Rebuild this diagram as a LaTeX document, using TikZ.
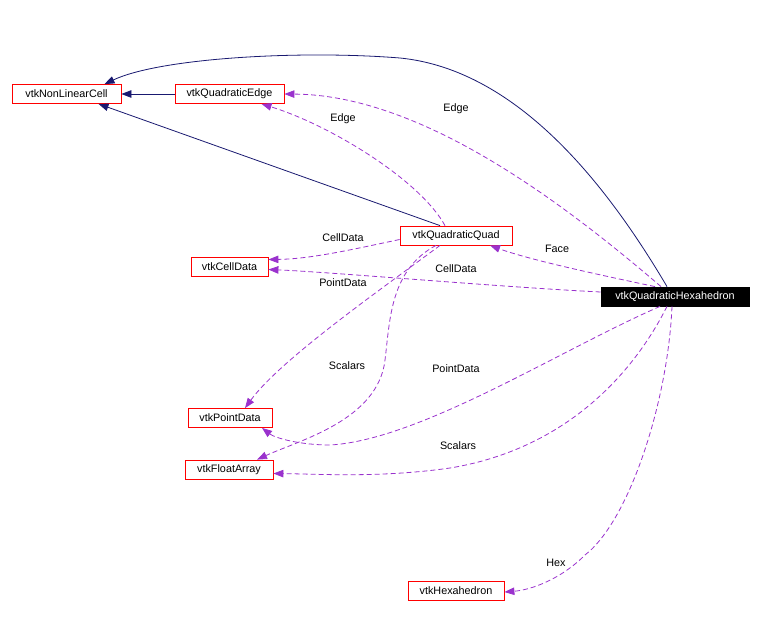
\documentclass[tikz,border=0pt]{standalone}
\usepackage{fontspec}
\setmainfont{Liberation Sans}
\usepackage{xcolor}
\usepackage{tikz}
\usetikzlibrary{arrows.meta,positioning,calc}

\definecolor{inhblue}{HTML}{191970}
\definecolor{usepurple}{HTML}{9A32CD}

\begin{document}
\begin{tikzpicture}[x=1pt, y=-1pt,
  cls/.style={draw=red, line width=0.8pt, minimum height=19pt, inner sep=0pt,
    font=\fontsize{10.8}{12}\selectfont},
  cur/.style={cls, draw=black, fill=black, text=white},
  inh/.style={draw=inhblue, line width=0.8pt, -{Triangle[length=10pt, width=7.5pt]}},
  use/.style={draw=usepurple, line width=0.8pt, dash pattern=on 5pt off 3pt,
    -{Triangle[length=10pt, width=7.5pt]}},
  lab/.style={font=\fontsize{10.8}{12}\selectfont, inner sep=1pt},
]
  \useasboundingbox (0,0) rectangle (762,616);

  % Classes.
  \node[cls, minimum width=109pt] (nlc)   at (66.5,94)  {vtkNonLinearCell};
  \node[cls, minimum width=109pt] (qedge) at (229.5,94) {vtkQuadraticEdge};
  \node[cls, minimum width=112pt] (qquad) at (456,235.5) {vtkQuadraticQuad};
  \node[cls, minimum width=77pt]  (cdata) at (229.5,266.5) {vtkCellData};
  \node[cur, minimum width=148pt] (hexa)  at (675,296.5) {vtkQuadraticHexahedron};
  \node[cls, minimum width=84pt]  (pdata) at (230,418) {vtkPointData};
  \node[cls, minimum width=88pt]  (farr)  at (229,469.5) {vtkFloatArray};
  \node[cls, minimum width=96pt]  (hexn)  at (456,590.5) {vtkHexahedron};

  % Inheritance.
  \draw[inh] (qedge) -- (nlc);
  \draw[inh] ([xshift=-16pt]qquad.north) -- ([xshift=32pt]nlc.south);
  \draw[inh] ([xshift=-8pt]hexa.north) .. controls (610,190) and (520,70) .. (400,58)
    .. controls (300,50) and (160,58) .. ([xshift=38pt]nlc.north);

  % Usage, from vtkQuadraticQuad.
  \draw[use] ([xshift=-11pt]qquad.north) .. controls (420,180) and (330,125)
    .. ([xshift=32pt]qedge.south);
  \draw[use] ([yshift=-4pt]qquad.west) .. controls (350,250) and (310,259)
    .. ([yshift=7pt]cdata.east);
  \draw[use] ([xshift=-16pt]qquad.south) .. controls (380,290) and (280,360)
    .. ([xshift=15pt]pdata.north);
  \draw[use] ([xshift=-20pt]qquad.south) .. controls (390,270) and (390,320) .. (385,360)
    .. controls (378,420) and (300,440) .. ([xshift=28pt]farr.north);

  % Usage, from vtkQuadraticHexahedron.
  \draw[use] ([xshift=-14pt]hexa.north) .. controls (560,200) and (420,95) .. (qedge.east);
  \draw[use] ([xshift=-20pt]hexa.north) .. controls (600,275) and (530,260)
    .. ([xshift=34pt]qquad.south);
  \draw[use] ([yshift=4.5pt]hexa.west) .. controls (500,287) and (330,272)
    .. ([yshift=-3pt]cdata.east);
  \draw[use] ([xshift=-15pt]hexa.south) .. controls (560,350) and (420,440) .. (330,445)
    .. controls (300,445) and (275,438) .. ([xshift=32pt]pdata.south);
  \draw[use] ([xshift=-8pt]hexa.south) .. controls (630,380) and (560,450) .. (450,468)
    .. controls (380,478) and (320,474) .. ([yshift=-4pt]farr.east);
  \draw[use] ([xshift=-3pt]hexa.south) .. controls (668,400) and (630,520) .. (585,555)
    .. controls (560,580) and (530,590) .. ([yshift=-1.5pt]hexn.east);

  % Labels.
  \node[lab] (l-edge1)  at (343,119) {Edge};
  \node[lab] (l-edge2)  at (456,109) {Edge};
  \node[lab] (l-cell1)  at (343,238) {CellData};
  \node[lab] (l-face)   at (557,249) {Face};
  \node[lab] (l-cell2)  at (456,269) {CellData};
  \node[lab] (l-point1) at (343,283) {PointData};
  \node[lab] (l-scal1)  at (347,366) {Scalars};
  \node[lab] (l-point2) at (456,369) {PointData};
  \node[lab] (l-scal2)  at (458,446) {Scalars};
  \node[lab] (l-hex)    at (556,563) {Hex};
\end{tikzpicture}
\end{document}
